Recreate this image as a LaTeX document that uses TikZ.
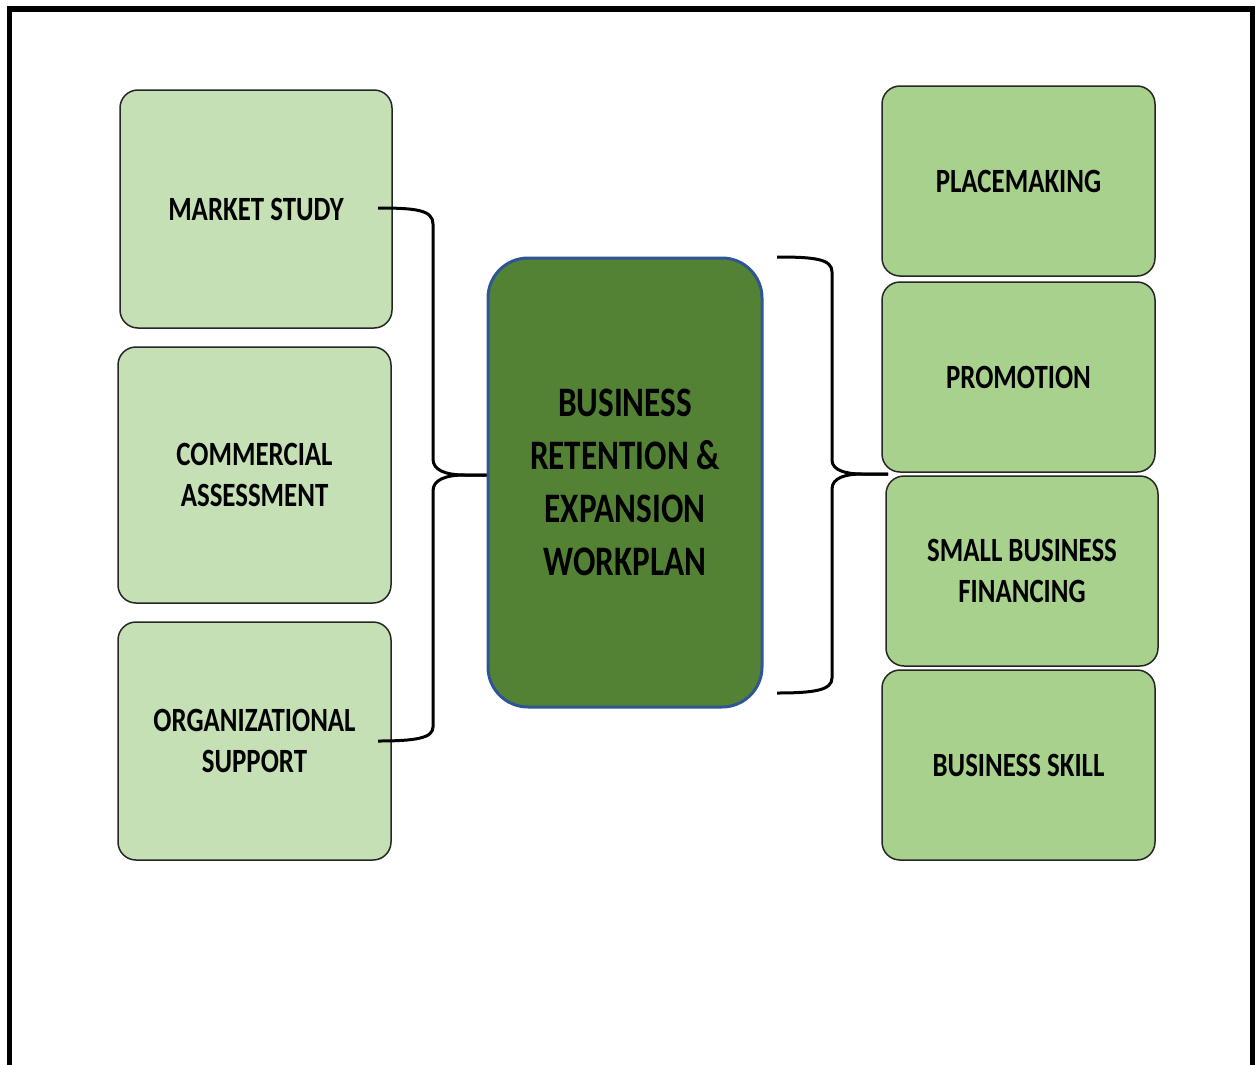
\documentclass[tikz,border=0pt]{standalone}
\usepackage{fontspec}
\setmainfont{Carlito}[FakeStretch=0.79]
\begin{document}
\begin{tikzpicture}[x=1pt,y=-1pt,
  lightbox/.style={draw=black!85, line width=1.5pt, fill=leftgreen, rounded corners=18pt,
    inner sep=0pt, align=center, font=\fontsize{34}{41}\selectfont\bfseries},
  midbox/.style={lightbox, fill=rightgreen},
  corebox/.style={draw=coreblue, line width=3pt, fill=coregreen, rounded corners=40pt,
    inner sep=0pt, align=center, font=\fontsize{42}{53}\selectfont\bfseries},
  bracket/.style={draw=black, line width=3pt},
  frameline/.style={draw=black, line width=5.5pt}]
\definecolor{leftgreen}{HTML}{C5E0B4}
\definecolor{rightgreen}{HTML}{A9D18E}
\definecolor{coregreen}{HTML}{548235}
\definecolor{coreblue}{HTML}{2F5597}

\useasboundingbox (0,0) rectangle (1255,1065);
\fill[white] (0,0) rectangle (1255,1065);

% open frame
\draw[frameline] (9.5,1065) -- (9.5,9) -- (1252.5,9) -- (1252.5,1065);

% left column
\node[lightbox, minimum width=272pt, minimum height=238pt] (market) at (256,209) {MARKET STUDY};
\node[lightbox, minimum width=273pt, minimum height=256pt] (commercial) at (254.5,475) {COMMERCIAL\\ASSESSMENT};
\node[lightbox, minimum width=273pt, minimum height=238pt] (organizational) at (254.5,741) {ORGANIZATIONAL\\SUPPORT};

% core box
\node[corebox, minimum width=274pt, minimum height=449pt] (core) at (625,482.5) {BUSINESS\\RETENTION \&\\EXPANSION\\WORKPLAN};

% right column
\node[midbox, minimum width=273pt, minimum height=190pt] (placemaking) at (1018.5,181) {PLACEMAKING};
\node[midbox, minimum width=273pt, minimum height=190pt] (promotion) at (1018.5,377) {PROMOTION};
\node[midbox, minimum width=272pt, minimum height=190pt] (financing) at (1022,571) {SMALL BUSINESS\\FINANCING};
\node[midbox, minimum width=273pt, minimum height=190pt] (skill) at (1018.5,765) {BUSINESS SKILL};

% bracket ends
\coordinate (lt) at (378,208);
\coordinate (lb) at (378,741);
\coordinate (ltip) at (core.west |- 0,475);
\coordinate (rt) at (777,257);
\coordinate (rb) at (777,693);
\coordinate (rtip) at (888,474);

% left curly bracket
\draw[bracket] (lt) .. controls (416,208) and (433,210) .. (433,224) -- (433,459)
  .. controls (433,470) and (445,475) .. (465,475) -- (ltip);
\draw[bracket] (ltip) -- (465,475) .. controls (445,475) and (433,480) .. (433,491)
  -- (433,727) .. controls (433,738) and (416,741) .. (lb);

% right curly bracket
\draw[bracket] (rt) .. controls (815,257) and (832,259) .. (832,272) -- (832,460)
  .. controls (832,470) and (845,474) .. (862,474) -- (rtip);
\draw[bracket] (rtip) -- (862,474) .. controls (845,474) and (832,478) .. (832,489)
  -- (832,678) .. controls (832,690) and (815,693) .. (rb);
\end{tikzpicture}
\end{document}
